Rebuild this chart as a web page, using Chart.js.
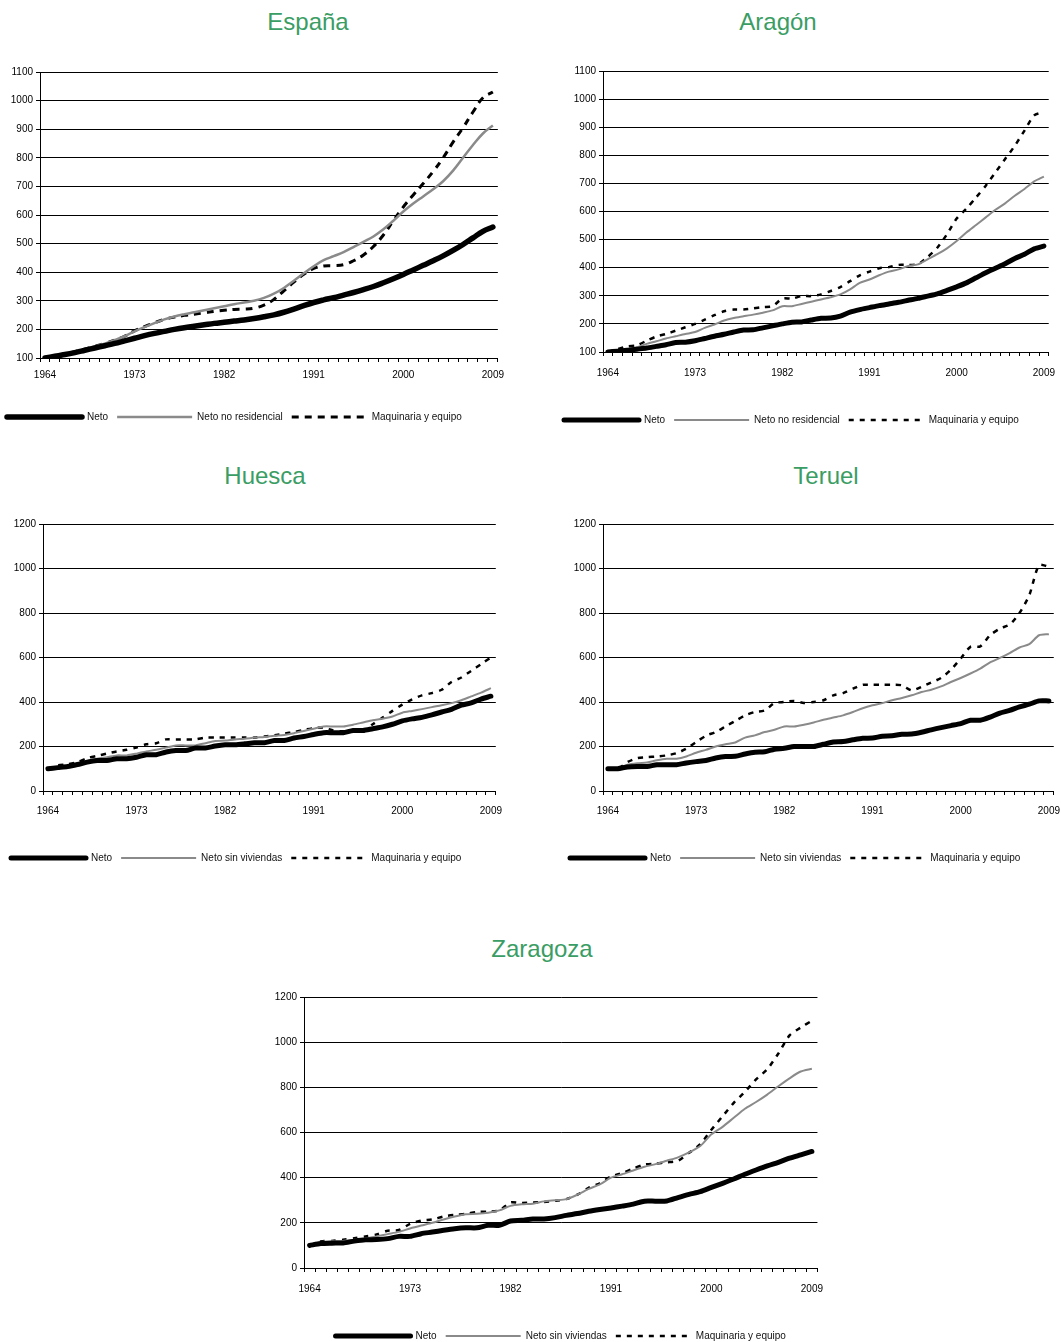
<!DOCTYPE html>
<html>
<head>
<meta charset="utf-8">
<script src="https://cdn.jsdelivr.net/npm/chart.js@4.4.0/dist/chart.umd.min.js"></script>
<style>
body { margin:0; background:#fff; width:1061px; height:1342px; position:relative; overflow:hidden; font-family:"Liberation Sans", Arial, sans-serif; }
canvas { position:absolute; }
.title { position:absolute; color:#3a9d64; font-size:24px; transform:translate(-50%,-50%); white-space:nowrap; }
</style>
</head>
<body>
<div class="title" style="left:308px;top:22px">España</div>
<div class="title" style="left:778px;top:22px">Aragón</div>
<div class="title" style="left:265px;top:476px">Huesca</div>
<div class="title" style="left:826px;top:476px">Teruel</div>
<div class="title" style="left:542px;top:949px">Zaragoza</div>

<canvas id="espana" width="513" height="372" style="left:-2px;top:60px"></canvas>
<canvas id="aragon" width="511" height="376" style="left:555px;top:59px"></canvas>
<canvas id="huesca" width="510" height="361" style="left:2px;top:512px"></canvas>
<canvas id="teruel" width="509" height="361" style="left:561px;top:512px"></canvas>
<canvas id="zaragoza" width="574" height="366" style="left:260px;top:985px"></canvas>

<script>
// años (eje x)
var years = [1964,1965,1966,1967,1968,1969,1970,1971,1972,1973,
  1974,1975,1976,1977,1978,1979,1980,1981,1982,1983,
  1984,1985,1986,1987,1988,1989,1990,1991,1992,1993,
  1994,1995,1996,1997,1998,1999,2000,2001,2002,2003,
  2004,2005,2006,2007,2008,2009];

var namesEspana = ["Neto", "Neto no residencial", "Maquinaria y equipo"];
var namesProv = ["Neto", "Neto sin viviendas", "Maquinaria y equipo"];

// España
var espanaNeto = [100,106,112,119,127,135,143,151,160,169,
  178,186,193,200,206,211,216,221,225,229,
  233,238,244,251,260,271,283,294,303,311,
  320,329,339,350,363,377,392,408,424,440,
  457,476,497,520,543,558];
var espanaNoRes = [100,106,113,121,130,140,150,162,176,193,
  208,222,235,245,253,260,267,274,281,288,
  294,300,310,325,345,370,396,421,442,456,
  470,488,506,525,550,580,612,640,665,690,
  718,755,800,845,885,913];
var espanaMaq = [100,107,114,122,131,141,151,162,176,195,
  210,223,235,243,249,253,258,263,267,270,
  271,274,285,305,335,365,393,413,422,423,
  426,440,460,490,530,580,628,670,710,752,
  800,855,905,960,1010,1030];

// Aragón
var aragonNeto = [100,103,106,110,114,120,126,134,135,140,
  148,156,163,171,178,179,186,193,200,206,
  207,214,220,221,228,242,251,258,265,271,
  277,284,291,299,307,319,332,346,364,382,
  398,414,433,448,467,477];
var aragonNoRes = [100,105,110,117,129,138,148,156,164,171,
  186,198,212,221,227,233,240,248,263,263,
  271,279,287,295,305,323,346,358,373,386,
  394,406,412,430,448,469,495,525,552,579,
  606,629,656,680,707,724];
var aragonMaq = [100,110,120,124,140,155,164,176,188,200,
  215,231,245,251,251,255,260,263,290,290,
  299,299,305,317,331,352,373,386,398,402,
  410,410,412,438,471,519,575,610,650,692,
  739,787,834,888,942,954];

// Huesca
var huescaNeto = [100,105,110,119,130,137,137,145,145,152,
  163,163,175,182,182,193,193,202,208,208,
  212,217,217,227,227,238,245,254,262,262,
  262,272,272,280,288,300,315,324,331,342,
  355,367,386,396,413,426];
var huescaSinViv = [100,106,112,122,135,145,152,160,160,168,
  178,185,195,205,205,205,215,225,227,232,
  235,240,243,248,252,260,270,280,290,290,
  290,298,308,318,325,335,352,360,368,377,
  385,395,408,425,442,462];
var huescaMaq = [100,115,120,130,148,158,168,178,185,195,
  210,215,232,232,232,232,240,240,240,240,
  240,240,245,250,258,265,275,282,285,272,
  268,268,272,300,330,360,388,412,430,440,
  455,490,510,540,570,600];

// Teruel
var teruelNeto = [100,100,108,110,110,118,118,118,126,132,
  137,148,155,156,166,174,176,188,192,200,
  200,200,210,220,222,230,237,238,246,248,
  255,256,264,275,285,294,303,318,318,332,
  350,362,378,390,405,405];
var teruelSinViv = [97,100,118,125,128,138,145,145,155,172,
  185,200,210,218,240,250,265,275,290,290,
  298,308,320,330,340,355,372,385,395,408,
  418,430,445,455,470,490,508,528,550,578,
  598,620,645,660,700,705];
var teruelMaq = [100,100,130,148,152,155,160,170,190,220,
  248,265,290,315,340,355,362,395,400,405,
  396,400,408,430,440,460,477,477,477,477,
  475,452,468,488,508,545,595,648,650,700,
  730,748,800,880,1015,1008];

// Zaragoza
var zaragozaNeto = [100,108,110,111,119,125,126,130,140,140,
  152,159,167,174,178,178,189,189,208,211,
  217,217,223,233,241,251,259,266,274,283,
  296,296,297,312,326,338,357,375,394,415,
  434,452,468,486,501,516];
var zaragozaSinViv = [100,115,118,120,125,130,140,150,160,175,
  188,200,215,228,238,240,245,255,275,282,
  285,295,300,305,325,350,370,400,415,432,
  448,460,475,490,512,540,592,625,665,705,
  735,768,805,840,870,882];
var zaragozaMaq = [100,118,120,125,132,140,148,165,168,195,
  210,215,228,235,240,248,250,255,290,288,
  290,292,298,305,325,355,375,405,420,440,
  458,462,468,475,510,548,612,672,731,780,
  835,880,950,1030,1065,1095];

var fontFam = "'Liberation Sans', Arial, sans-serif";

// legend items: keep the dash / width / cap of each line
function legendLabels(chart) {
  var items = Chart.defaults.plugins.legend.labels.generateLabels(chart);
  items.forEach(function (it, i) {
    var ds = chart.data.datasets[i];
    it.lineDash = ds.borderDash || [];
    it.lineWidth = ds.borderWidth;
    it.lineCap = ds.borderCapStyle || 'butt';
    it.strokeStyle = ds.borderColor;
    it.pointStyle = 'line';
  });
  return items;
}

function makeChart(id, p) {
  var ctx = document.getElementById(id).getContext('2d');
  return new Chart(ctx, {
    type: 'line',
    data: {
      labels: years,
      datasets: [
        { label: p.names[0], data: p.neto, borderColor: '#000', backgroundColor: '#000',
          borderWidth: p.w[0], borderCapStyle: 'round', borderJoinStyle: 'round' },
        { label: p.names[1], data: p.second, borderColor: '#8a8a8a', backgroundColor: '#8a8a8a',
          borderWidth: p.w[1] },
        { label: p.names[2], data: p.maq, borderColor: '#000', backgroundColor: '#000',
          borderWidth: p.w[2], borderDash: p.dash }
      ]
    },
    options: {
      responsive: false,
      animation: false,
      layout: { padding: { top: 12, right: 0, left: 0, bottom: 0 } },
      elements: { point: { radius: 0 }, line: { tension: p.tension, fill: false } },
      plugins: {
        legend: {
          position: 'bottom',
          align: p.legendAlign,
          fullSize: p.fullSize,
          labels: {
            usePointStyle: true, pointStyle: 'line', pointStyleWidth: 75,
            generateLabels: legendLabels,
            font: { size: 10, family: fontFam }, color: '#111', padding: 9
          }
        },
        tooltip: { enabled: false }
      },
      scales: {
        x: {
          offset: true,
          grid: { offset: true, drawOnChartArea: false, drawTicks: true, tickLength: 4, color: '#000' },
          border: { color: '#000' },
          ticks: {
            autoSkip: false, maxRotation: 0, padding: p.xPad,
            font: { size: 10, family: fontFam }, color: '#000',
            callback: function (v, i) { return i % 9 === 0 ? String(years[i]) : ''; }
          },
          afterFit: function (a) { a.height = p.xH; }
        },
        y: {
          min: p.min, max: p.max,
          ticks: {
            stepSize: p.step, font: { size: 10, family: fontFam }, color: '#000', padding: 3,
            callback: function (v) { return String(v); }
          },
          grid: { color: '#000', tickLength: 4 },
          border: { color: '#000' },
          afterFit: function (a) { a.width = p.yW; }
        }
      }
    }
  });
}

makeChart('espana', {
  names: namesEspana, neto: espanaNeto, second: espanaNoRes, maq: espanaMaq,
  w: [5.5, 2.5, 3], dash: [7, 6], tension: 0.4,
  min: 100, max: 1100, step: 100, yW: 42, xH: 45, xPad: 7,
  legendAlign: 'start', fullSize: true
});

makeChart('aragon', {
  names: namesEspana, neto: aragonNeto, second: aragonNoRes, maq: aragonMaq,
  w: [5, 2, 2.5], dash: [5, 6], tension: 0.25,
  min: 100, max: 1100, step: 100, yW: 48, xH: 54, xPad: 11,
  legendAlign: 'start', fullSize: true
});

makeChart('huesca', {
  names: namesProv, neto: huescaNeto, second: huescaSinViv, maq: huescaMaq,
  w: [5, 2, 2.5], dash: [5, 6], tension: 0.25,
  min: 0, max: 1200, step: 200, yW: 41, xH: 53, xPad: 10,
  legendAlign: 'start', fullSize: true
});

makeChart('teruel', {
  names: namesProv, neto: teruelNeto, second: teruelSinViv, maq: teruelMaq,
  w: [5, 2, 2.5], dash: [5, 6], tension: 0.25,
  min: 0, max: 1200, step: 200, yW: 42, xH: 53, xPad: 10,
  legendAlign: 'start', fullSize: true
});

makeChart('zaragoza', {
  names: namesProv, neto: zaragozaNeto, second: zaragozaSinViv, maq: zaragozaMaq,
  w: [5, 2, 2.5], dash: [5, 6], tension: 0.25,
  min: 0, max: 1200, step: 200, yW: 44, xH: 54, xPad: 11,
  legendAlign: 'center', fullSize: false
});
</script>
</body>
</html>
